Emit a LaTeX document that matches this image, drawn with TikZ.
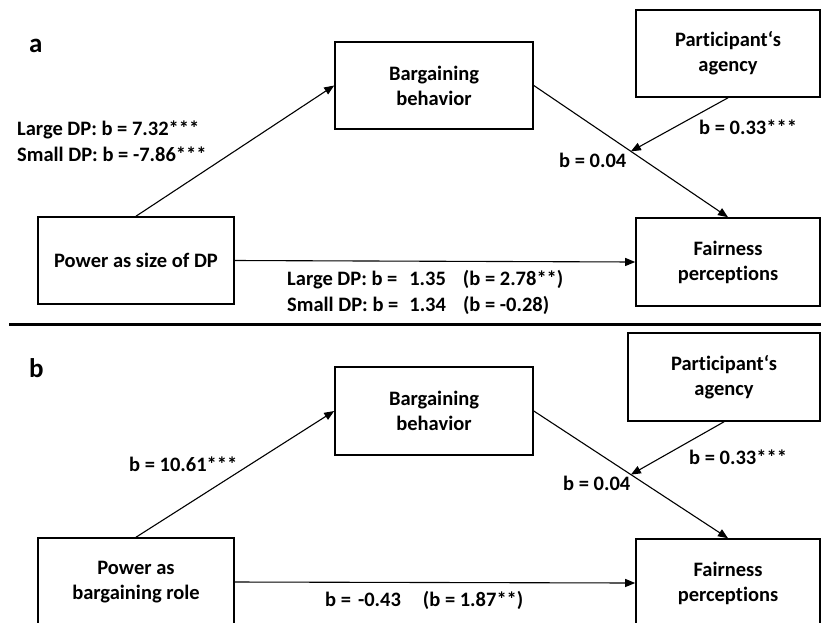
\documentclass[tikz,border=0pt]{standalone}
\usepackage{fontspec}
\setmainfont{Carlito}[Ligatures=NoCommon]
\usetikzlibrary{arrows.meta,calc}
\begin{document}
\begin{tikzpicture}[x=1pt,y=-1pt,
 box/.style={draw, line width=1.6pt, align=center, font=\fontsize{20.5}{25}\selectfont\bfseries, inner sep=0pt},
 conn/.style={line width=1.1pt, -{Triangle[length=10pt,width=8pt]}},
 lbl/.style={font=\fontsize{20.5}{26}\selectfont\bfseries, anchor=west, inner sep=0pt, align=left},
 panel/.style={font=\fontsize{27}{30}\selectfont\bfseries, inner sep=0pt},
]
\useasboundingbox (0,0) rectangle (821,622);
\clip (0,0) rectangle (821,622);

% ---------- panel a ----------
\node[panel, anchor=base west] (la) at (29,52) {a};
\node[box, minimum width=198pt, minimum height=87pt] (ba) at (434,85.5) {Bargaining\\behavior};
\node[box, minimum width=184pt, minimum height=87pt] (ag) at (728,53.5) {Participant‘s\\agency};
\node[box, minimum width=196pt, minimum height=87pt] (pa) at (136,260.5) {Power as size of DP};
\node[box, minimum width=184pt, minimum height=88pt] (fa) at (728,262) {Fairness\\perceptions};

\draw[conn] (pa.north) -- (ba.west);
\draw[conn] (ba.east) -- coordinate[pos=0.5] (ma) (fa.north);
\draw[conn] (ag.south) -- (ma);
\draw[conn] (pa.east) -- (fa.west);

\node[lbl] (l1) at (17,141) {Large DP: b = 7.32***\\Small DP: b = -7.86***};
\node[lbl] (l2) at (559,160) {b = 0.04};
\node[lbl] (l3) at (699,127) {b = 0.33***};
\node[lbl] (l4) at (287,293.5) {\begin{tabular}{@{}l@{\hspace{11pt}}l@{\hspace{17pt}}l@{}}Large DP: b = & 1.35 & (b = 2.78**)\\[0pt] Small DP: b = & 1.34 & (b = -0.28)\end{tabular}};

% separator
\draw[line width=3pt] (9,324) -- (821,324);

% ---------- panel b ----------
\node[panel, anchor=base west] (lb) at (29,377) {b};
\node[box, minimum width=198pt, minimum height=88pt] (bb) at (434,411) {Bargaining\\behavior};
\node[box, minimum width=192pt, minimum height=88pt] (agb) at (724,377) {Participant‘s\\agency};
\node[box, minimum width=196pt, minimum height=88pt] (pb) at (136,582) {Power as\\bargaining role};
\node[box, minimum width=184pt, minimum height=88pt] (fb) at (728,583) {Fairness\\perceptions};

\draw[conn] (pb.north) -- (bb.west);
\draw[conn] (bb.east) -- coordinate[pos=0.5] (mb) (fb.north);
\draw[conn] (agb.south) -- (mb);
\draw[conn] (pb.east) -- (fb.west);

\node[lbl] (m1) at (129,464) {b = 10.61***};
\node[lbl] (m2) at (563,483) {b = 0.04};
\node[lbl] (m3) at (689,457) {b = 0.33***};
\node[lbl] (m4) at (325,600) {b =\hspace{7pt}-0.43\hspace{22pt}(b = 1.87**)};
\end{tikzpicture}
\end{document}
